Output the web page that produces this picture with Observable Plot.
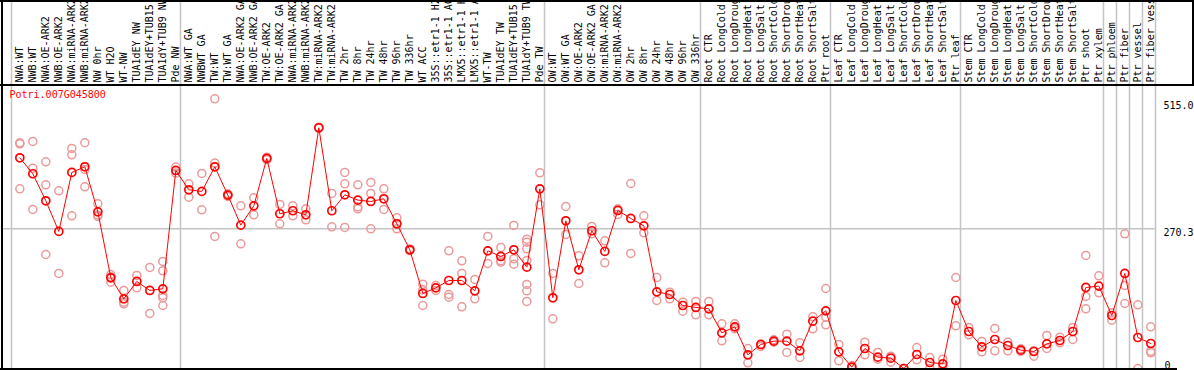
<!DOCTYPE html>
<html>
<head>
<meta charset="utf-8">
<script src="https://cdn.jsdelivr.net/npm/d3@7"></script>
<script src="https://cdn.jsdelivr.net/npm/@observablehq/plot@0.6"></script>
<style>
  html, body { margin: 0; padding: 0; background: #fff; }
  svg { display: block; }
</style>
</head>
<body>
<div id="chart"></div>
<script>
const geneName = "Potri.007G045800";

const labels = [
  "NWA:WT","NWB:WT","NWA:OE-ARK2","NWB:OE-ARK2","NWA:miRNA-ARK2","NWB:miRNA-ARK2","NW 0hr","WT H2O","WT-NW","TUA1dEY NW","TUA1dEY+TUB15 NW","TUA1dY+TUB9 NW","Pde NW",
  "NWA:WT GA","NWBWT GA","TW:WT","TW:WT GA","NWA:OE-ARK2 GA","NWB:OE-ARK2 GA","TW:OE-ARK2","TW:OE-ARK2 GA","NWA:miRNA-ARK2 GA","NWB:miRNA-ARK2 GA","TW:miRNA-ARK2","TW:miRNA-ARK2 GA","TW 2hr","TW 8hr","TW 24hr","TW 48hr","TW 96hr","TW 336hr","WT ACC","35S::etr1-1 H2O","35S::etr1-1 ACC","LMX5::etr1-1 H2O","LMX5::etr1-1 ACC","WT-TW","TUA1dEY TW","TUA1dEY+TUB15 TW","TUA1dY+TUB9 TW","Pde TW",
  "OW:WT","OW:WT GA","OW:OE-ARK2","OW:OE-ARK2 GA","OW:miRNA-ARK2","OW:miRNA-ARK2 GA","OW 2hr","OW 8hr","OW 24hr","OW 48hr","OW 96hr","OW 336hr",
  "Root CTR","Root LongCold","Root LongDrought","Root LongHeat","Root LongSalt","Root ShortCold","Root ShortDrought","Root ShortHeat","Root ShortSalt","Ptr root",
  "Leaf CTR","Leaf LongCold","Leaf LongDrought","Leaf LongHeat","Leaf LongSalt","Leaf ShortCold","Leaf ShortDrought","Leaf ShortHeat","Leaf ShortSalt","Ptr leaf",
  "Stem CTR","Stem LongCold","Stem LongDrought","Stem LongHeat","Stem LongSalt","Stem ShortCold","Stem ShortDrought","Stem ShortHeat","Stem ShortSalt","Ptr shoot","Ptr xylem",
  "Ptr phloem","Ptr fiber","Ptr vessel","Ptr fiber vessel"
];

const means = [
  407.7,376.8,324.5,265.2,379.4,390.3,303.2,175.5,134.8,168.4,151.0,154.2,383.2,
  345.8,342.6,390.3,335.5,277.4,314.8,406.5,299.4,305.2,297.4,465.8,305.2,336.1,325.8,323.2,328.4,280.0,229.7,145.2,156.1,170.3,170.3,150.3,227.7,216.8,229.7,196.1,347.7,
  136.8,285.8,191.0,266.5,226.5,305.8,290.3,276.1,148.4,143.2,121.9,118.1,
  115.5,69.0,80.6,26.5,46.5,52.9,52.9,34.2,91.6,111.6,
  32.3,2.6,38.7,21.9,20.0,0,27.1,11.6,9.0,131.6,
  71.6,41.9,56.1,44.5,35.5,32.9,47.7,54.2,71.6,156.8,159.4,
  102.6,183.9,60.0,48.4
];

const replicates = [
  [436.8,434.8,347.7],[439.4,387.7,307.7],[400.0,355.5,220.6],[343.9,183.9],[425.8,413.5,295.5],
  [436.8,385.2,351.6],[318.7,294.2,297.0],[181.9,167.1,177.5],[151.0,125.2,128.4],[180.0,156.1],
  [195.5,106.5],[207.1,189.0,141.3,136.8,121.9],[389.7,378.1],
  [357.4,331.6],[377.4,307.1],[521.9,397.4,255.5],[333.0,336.0,338.0],[314.8,241.3],
  [330.3,297.4],[404.0,406.5,409.0],[317.4,280.0],[314.8,295.5],[309.0,287.7],
  [465.0,467.0],[338.7,274.2],[379.4,357.4,272.9],[355.5,309.0,313.0],[360.0,338.7,270.3],
  [347.7,307.7],[291.6,270.3],[228.0,230.0,231.0],[163.2,152.3,121.9],[160.6,151.0],
  [227.7,143.2,138.1],[208.4,183.9,119.4],[172.3,134.8],[255.5,203.2],[234.2,205.8,208.4],
  [276.8,212.3,201.9],[250.3,244.5,231.6,209.0,162.6,150.3,129.7],[378.7,316.8],
  [183.9,96.1],[313.5,259.4],[218.1,164.5],[274.8,260.6],[247.1,204.5],[309.0,298.1],
  [358.0,222.6],[295.5,262.6],[176.1,131.6],[147.7,134.8],[128.4,111.0],[129.7,103.9],
  [129.7,103.9],[86.5,53.5],[86.5,76.8],[38.7,11.0],[46.5,42.6],[55.5,51.0],[66.5,31.0],
  [49.7,21.3],[100.0,76.8],[154.8,84.5,99.4],
  [46.5,14.8],[5.8,1.3],[51.0,26.5],[31.0,18.1],[23.9,12.3],[0,0],[40.6,16.8],[21.3,0],
  [18.1,2.6],[176.1,82.6],
  [79.4,65.2],[52.3,32.3],[77.4,34.2],[51.0,34.2],[38.1,32.9],[34.2,23.9],[63.9,38.7],
  [60.6,49.7],[79.4,56.1],[218.7,139.4,115.5],[179.4,146.5],
  [107.7,93.5],[260.6,160.6,125.8],[123.2,0],[80.6,33.5,30.3]
];

const groupBreaks = [0, 13, 41, 53, 63, 73, 84, 85, 86, 87, 88];
const yTicks = [0, 270.3, 515.0];
const yTickLabels = ["0", "270.3", "515.0"];
const yMax = 547.6;

const pos = (i) => i + 0.64;
const meanData = means.map((v, i) => ({i, v}));
const repData = replicates.flatMap((r, i) => r.map(v => ({i, v})));
const tickData = yTicks.map((v, k) => ({v, label: yTickLabels[k]}));

const chart = Plot.plot({
  width: 1194,
  height: 370,
  marginTop: 0,
  marginBottom: 1,
  marginLeft: 1,
  marginRight: 39,
  style: {fontFamily: "'DejaVu Sans Mono', monospace", fontSize: "10px", background: "#fff", overflow: "hidden"},
  x: {type: "linear", domain: [0, labels.length], range: [11, 1155], axis: null},
  y: {domain: [0, yMax], range: [368, 85], axis: null},
  marks: [
    Plot.ruleX(groupBreaks, {x: d => d, stroke: "#c4c4c4", strokeWidth: 1.5}),
    Plot.ruleY([yTicks[1]], {stroke: "#c4c4c4", strokeWidth: 1.5}),
    Plot.text(labels, {x: (d, i) => pos(i), y: yMax, text: d => d, rotate: -90, textAnchor: "start", lineAnchor: "middle", dy: -3, fill: "#000"}),
    Plot.text([geneName], {x: 0, y: yMax, text: d => d, textAnchor: "start", lineAnchor: "top", dx: -2, dy: 5, fill: "red"}),
    Plot.text(tickData.filter(d => d.v > 0), {x: labels.length, y: "v", text: "label", textAnchor: "start", lineAnchor: "top", dx: 8, dy: 0, fill: "#000"}),
    Plot.text(tickData.filter(d => d.v === 0), {x: labels.length, y: "v", text: "label", textAnchor: "start", lineAnchor: "bottom", dx: 9, dy: 0, fill: "#000"}),
    Plot.dot(repData, {x: d => pos(d.i), y: "v", r: 4, stroke: "#e99a9a", strokeWidth: 1.5, fill: "none"}),
    Plot.line(meanData, {x: d => pos(d.i), y: "v", stroke: "red", strokeWidth: 1}),
    Plot.dot(meanData, {x: d => pos(d.i), y: "v", r: 4, stroke: "red", strokeWidth: 1.7, fill: "none"})
  ]
});

document.getElementById("chart").appendChild(chart);

// frame lines of the header box and plot area
const ys = chart.scale("y");
const yTop = ys.apply(yMax);
const yBottom = ys.apply(0);
const svg = d3.select(chart);
const borders = [
  {x1: 0, y1: 1, x2: 1194, y2: 1},
  {x1: 0, y1: yTop, x2: 1194, y2: yTop},
  {x1: 2, y1: 0, x2: 2, y2: 370},
  {x1: 1193, y1: 0, x2: 1193, y2: yTop},
  {x1: 0, y1: yBottom + 1, x2: 1177, y2: yBottom + 1}
];
svg.append("g")
  .selectAll("line")
  .data(borders)
  .join("line")
  .attr("x1", d => d.x1).attr("y1", d => d.y1)
  .attr("x2", d => d.x2).attr("y2", d => d.y2)
  .attr("stroke", "#000")
  .attr("stroke-width", 2);
</script>
</body>
</html>
